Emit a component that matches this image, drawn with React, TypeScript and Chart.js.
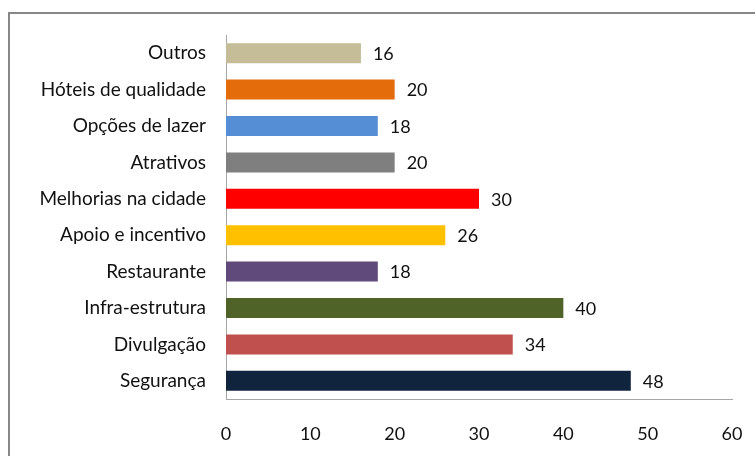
import React, { useEffect, useRef } from "react";
import { Chart, registerables } from "chart.js";

Chart.register(...registerables);

const categories = [
  "Outros",
  "Hóteis de qualidade",
  "Opções de lazer",
  "Atrativos",
  "Melhorias na cidade",
  "Apoio e incentivo",
  "Restaurante",
  "Infra-estrutura",
  "Divulgação",
  "Segurança",
];
const values = [16, 20, 18, 20, 30, 26, 18, 40, 34, 48];
const barColors = [
  "#C4BD97",
  "#E46C0A",
  "#558ED5",
  "#7F7F7F",
  "#FF0000",
  "#FFC000",
  "#604A7B",
  "#4F6228",
  "#C0504D",
  "#10243E",
];
const xMin = 0;
const xMax = 60;
const xStep = 10;

const FONT = "Lato, 'Open Sans', sans-serif";

const framePlugin = {
  id: "frame",
  beforeDraw(chart: any) {
    const ctx = chart.ctx;
    ctx.save();
    ctx.fillStyle = "#ffffff";
    ctx.fillRect(0, 0, chart.width, chart.height);
    ctx.strokeStyle = "#878787";
    ctx.lineWidth = 2;
    ctx.strokeRect(9, 13, chart.width + 20, chart.height + 20);
    ctx.restore();
  },
};

const valueLabels = {
  id: "valueLabels",
  afterDatasetsDraw(chart: any) {
    const ctx = chart.ctx;
    const meta = chart.getDatasetMeta(0);
    ctx.save();
    ctx.font = `18px ${FONT}`;
    ctx.fillStyle = "#111111";
    ctx.textAlign = "left";
    ctx.textBaseline = "middle";
    meta.data.forEach((bar: any, i: number) => {
      ctx.fillText(String(values[i]), bar.x + 12, bar.y + 1);
    });
    ctx.restore();
  },
};

export default function App() {
  const ref = useRef<HTMLCanvasElement | null>(null);
  useEffect(() => {
    if (!ref.current) return;
    const chart = new Chart(ref.current, {
      type: "bar",
      data: {
        labels: categories,
        datasets: [
          {
            data: values,
            backgroundColor: barColors,
            categoryPercentage: 1,
            barPercentage: 0.55,
          },
        ],
      },
      options: {
        indexAxis: "y",
        animation: false,
        responsive: false,
        maintainAspectRatio: false,
        layout: { padding: { top: 35, right: 23, left: 0, bottom: 0 } },
        plugins: {
          legend: { display: false },
          tooltip: { enabled: false },
        },
        scales: {
          x: {
            min: xMin,
            max: xMax,
            grid: { display: false },
            border: { display: true, color: "#A6A6A6", width: 1 },
            ticks: {
              stepSize: xStep,
              padding: 16,
              color: "#111111",
              font: { family: FONT, size: 18 },
              maxRotation: 0,
            },
            afterFit(scale: any) {
              scale.height = 57;
              scale.paddingLeft = 0;
              scale.paddingRight = 0;
            },
          },
          y: {
            grid: { display: false },
            border: { display: true, color: "#A6A6A6", width: 1 },
            ticks: {
              padding: 12,
              color: "#111111",
              font: { family: FONT, size: 19 },
            },
            afterFit(scale: any) {
              scale.width = 226;
              scale.paddingTop = 0;
              scale.paddingBottom = 0;
            },
          },
        },
      },
      plugins: [framePlugin, valueLabels],
    });
    return () => chart.destroy();
  }, []);
  return (
    <div style={{ position: "fixed", left: 0, top: 0, width: 755, height: 456 }}>
      <canvas ref={ref} width={755} height={456} style={{ display: "block" }} />
    </div>
  );
}
